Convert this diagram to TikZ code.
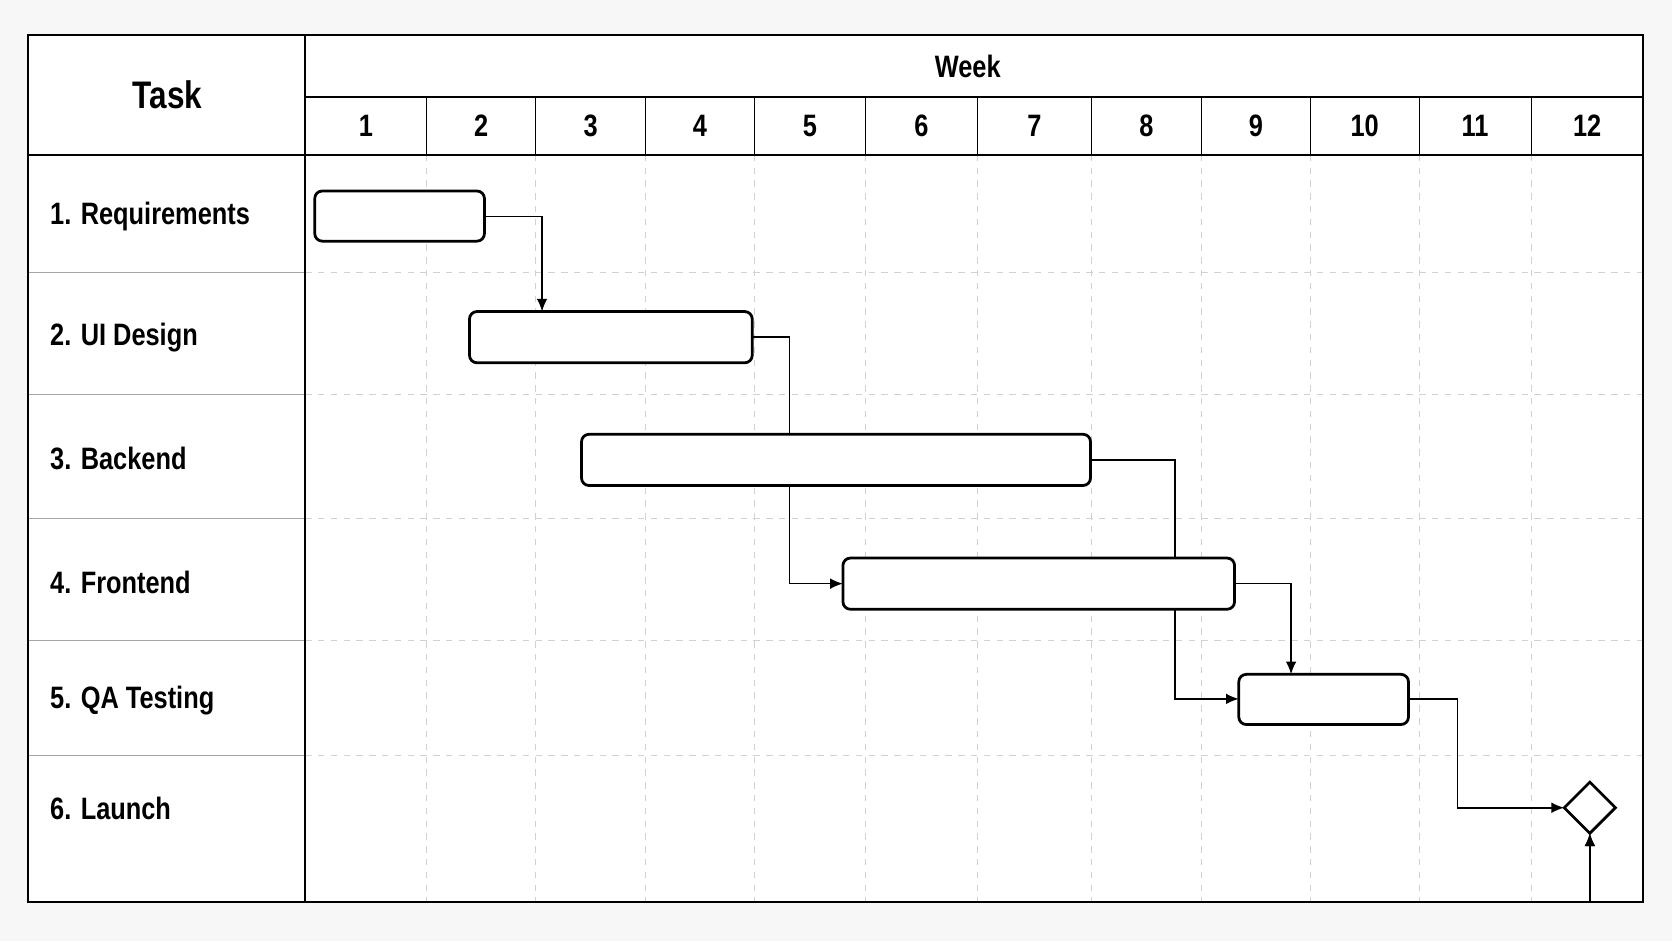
\documentclass[tikz,border=0pt]{standalone}
\usepackage{fontspec}
\setmainfont{Liberation Sans}[FakeStretch=0.82]
\usetikzlibrary{arrows.meta,shapes.geometric}
\begin{document}
\begin{tikzpicture}[x=0.5pt,y=-0.5pt,
 bar/.style={draw,line width=1.3pt,rounded corners=3.5pt,fill=white,inner sep=0pt},
 grid/.style={draw=black!18,dashed,line width=0.5pt,dash pattern=on 3pt off 3pt},
 dep/.style={draw,line width=0.75pt,-{Latex[length=6pt,width=5pt]}},
 lbl/.style={font=\fontsize{14.5}{16}\bfseries\selectfont,anchor=west},
 num/.style={font=\fontsize{14.5}{16}\bfseries\selectfont}]
\fill[white!97!black] (0,0) rectangle (1567,882);
\fill[white] (26,33) rectangle (1540,845);
% grid
\foreach \x in {400,502,605,707,811,916,1023,1126,1228,1330,1435} \draw[grid] (\x,145) -- (\x,845);
\foreach \y in {255,370,486,600,708} \draw[grid] (286,\y) -- (1540,\y);
\foreach \y in {255,370,486,600,708} \draw[black!35,line width=0.5pt] (26,\y) -- (286,\y);
% header lines
\foreach \x in {400,502,605,707,811,916,1023,1126,1228,1330,1435} \draw[line width=0.6pt] (\x,91) -- (\x,145);
\draw[line width=0.8pt] (286,91) -- (1540,91);
\draw[line width=0.8pt] (26,145) -- (1540,145);
\draw[line width=0.9pt] (286,33) -- (286,845);
\draw[line width=1pt] (26,33) rectangle (1540,845);
% texts
\node[font=\fontsize{18}{20}\bfseries\selectfont] (task) at (157,89) {Task};
\node[num] (week) at (907,62) {Week};
\foreach \x/\n in {343/1,451/2,553.5/3,656/4,759/5,863.5/6,969.5/7,1074.5/8,1177/9,1279/10,1382.5/11,1487.5/12}
  \node[num] (w\n) at (\x,118) {\n};
\node[lbl] (l1) at (40,203) {1. Requirements};
\node[lbl] (l2) at (40,316) {2. UI Design};
\node[lbl] (l3) at (40,430) {3. Backend};
\node[lbl] (l4) at (40,546) {4. Frontend};
\node[lbl] (l5) at (40,657) {5. QA Testing};
\node[lbl] (l6) at (40,758) {6. Launch};
% coordinates for bars
\coordinate (c1) at (508,292);
\coordinate (f0) at (1490,845);
% dependencies
\draw[dep] (454,203) -| (508,292);
\draw[dep] (705,316) -| (740,547) -- (790,547);
\draw[dep] (1022,431) -| (1101,655) -- (1161,655);
\draw[dep] (1157,547) -| (1210,632);
\draw[dep] (1320,655) -| (1366,757) -- (1466,757);
\draw[dep] (1490,845) -- (1490,781);
% bars
\draw[bar] (295,179) rectangle (454,226);
\draw[bar] (440,292) rectangle (705,340);
\draw[bar] (545,407) rectangle (1022,455);
\draw[bar] (790,523) rectangle (1157,571);
\draw[bar] (1161,632) rectangle (1320,679);
\draw[line width=1.3pt,fill=white] (1466,757) -- (1490,733) -- (1514,757) -- (1490,781) -- cycle;
\draw[dep] (1490,845) -- (1490,781);
\end{tikzpicture}
\end{document}
